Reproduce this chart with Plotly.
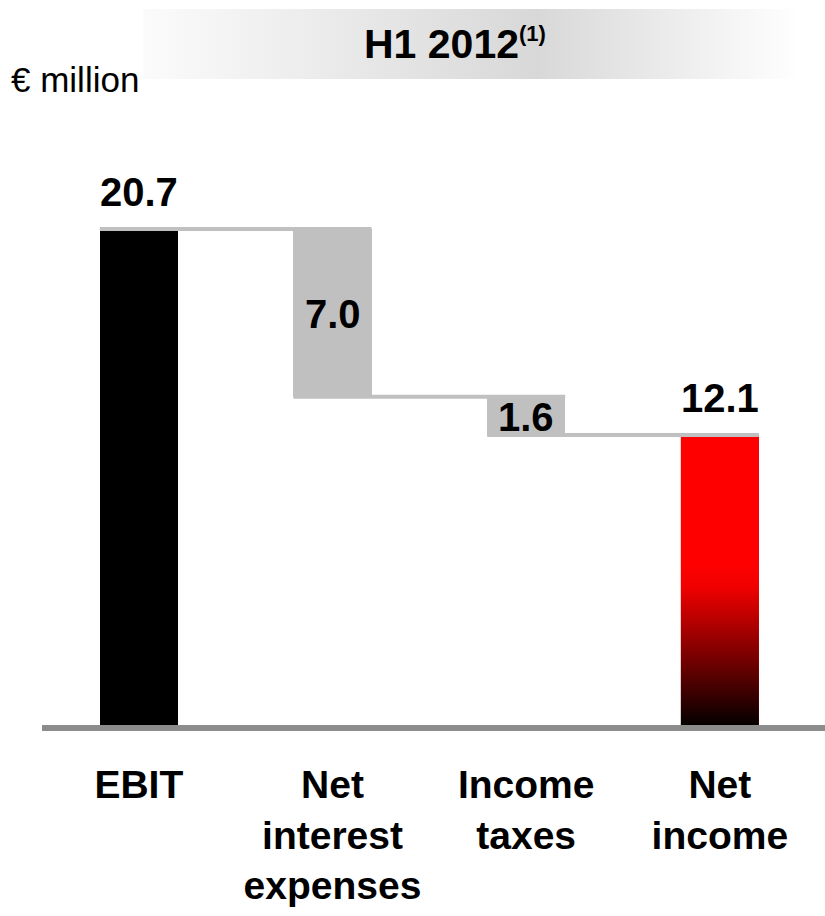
import plotly.graph_objects as go

# Waterfall data: EBIT down to net income, € million
categories = ["EBIT", "Net<br>interest<br>expenses", "Income<br>taxes", "Net<br>income"]
values = [20.7, -7.0, -1.6, 12.1]
measures = ["absolute", "relative", "relative", "total"]
bar_colors = ["#000000", "#c0c0c0", "#c0c0c0", "#ff0000"]
period_label = "H1 2012"
period_note = "(1)"
unit_label = "€ million"

FONT = "Liberation Sans, Arial, sans-serif"
BAR_W = 0.403
CONNECTOR = "#c0c0c0"

# Floating-bar geometry derived from the measures
xs = list(range(len(categories)))
bases, heights, levels = [], [], []
running = 0.0
for v, m in zip(values, measures):
    if m == "absolute":
        running = v
        bases.append(0.0)
        heights.append(v)
    elif m == "relative":
        new = running + v
        bases.append(min(running, new))
        heights.append(abs(v))
        running = new
    else:
        bases.append(0.0)
        heights.append(v)
        running = v
    levels.append(running)

fig = go.Figure()

fig.add_trace(go.Bar(
    x=xs, y=heights, base=bases, width=BAR_W,
    marker=dict(color=bar_colors, line=dict(width=0)),
    hovertext=[f"{abs(v):.1f}" for v in values], hoverinfo="text",
    showlegend=False,
))

# Net income bar drawn again with a red-to-black vertical gradient
for i, m in enumerate(measures):
    if m != "total":
        continue
    x0, x1 = xs[i] - BAR_W / 2, xs[i] + BAR_W / 2
    y0, y1 = bases[i], bases[i] + heights[i]
    fig.add_trace(go.Scatter(
        x=[x0, x1, x1, x0, x0], y=[y0, y0, y1, y1, y0],
        mode="lines", line=dict(width=0), fill="toself",
        fillgradient=dict(type="vertical",
                          colorscale=[[0, "#050000"], [0.85, "#f00000"], [1, "#ff0000"]],
                          start=y0, stop=y0 + heights[i] * 0.56),
        hoverinfo="skip", showlegend=False,
    ))

# Header band with a soft horizontal grey gradient (pixel-space overlay axes)
band_x = [143, 800, 800, 143, 143]
band_y = [9, 9, 79, 79, 9]
fig.add_trace(go.Scatter(
    x=band_x, y=band_y, xaxis="x2", yaxis="y2",
    mode="lines", line=dict(width=0), fill="toself",
    fillgradient=dict(type="horizontal",
                      colorscale=[[0, "#fbfbfb"], [0.6, "#d8d8d8"], [1, "#ffffff"]],
                      start=143, stop=800),
    hoverinfo="skip", showlegend=False,
))

shapes = []
# Connector lines between consecutive bar levels
for i in range(len(xs) - 1):
    shapes.append(dict(
        type="line", xref="x", yref="y",
        x0=xs[i] - BAR_W / 2, x1=xs[i + 1] + BAR_W / 2,
        y0=levels[i], y1=levels[i],
        line=dict(color=CONNECTOR, width=4), layer="above",
    ))
# Baseline
shapes.append(dict(
    type="rect", xref="x domain", yref="y",
    x0=0, x1=1, y0=-0.25, y1=0,
    fillcolor="#8c8c8c", line=dict(width=0), layer="above",
))

annotations = []
for i, m in enumerate(measures):
    txt = f"{abs(values[i]):.1f}"
    if m == "relative":
        annotations.append(dict(
            x=xs[i], y=bases[i] + heights[i] / 2, xref="x", yref="y",
            text=txt, showarrow=False, yanchor="middle", yshift=-1,
            font=dict(family=FONT, size=40, color="black", weight="bold"),
        ))
    else:
        annotations.append(dict(
            x=xs[i], y=bases[i] + heights[i], xref="x", yref="y",
            text=txt, showarrow=False, yanchor="bottom", yshift=13,
            font=dict(family=FONT, size=40, color="black", weight="bold"),
        ))

annotations.append(dict(
    x=455 / 825, y=1 - 44 / 916, xref="paper", yref="paper",
    text=f"{period_label}<sup><span style='font-size:22px'>{period_note}</span></sup>",
    showarrow=False, xanchor="center", yanchor="middle",
    font=dict(family=FONT, size=41, color="black", weight="bold"),
))
annotations.append(dict(
    x=9 / 825, y=1 - 80 / 916, xref="paper", yref="paper",
    text=unit_label, showarrow=False, xanchor="left", yanchor="middle",
    font=dict(family=FONT, size=35, color="black"),
))

fig.update_layout(
    width=825, height=916,
    margin=dict(l=0, r=0, t=0, b=0),
    paper_bgcolor="white", plot_bgcolor="rgba(0,0,0,0)",
    bargap=0,
    shapes=shapes, annotations=annotations,
    xaxis=dict(
        domain=[42 / 825, 1], range=[-0.5, 3.543],
        tickmode="array", tickvals=xs, ticktext=categories,
        tickfont=dict(family=FONT, size=39, color="black", weight="bold"),
        ticklabelstandoff=26,
        showgrid=False, zeroline=False, showline=False, ticks="",
        fixedrange=True,
    ),
    yaxis=dict(
        domain=[184 / 916, 816 / 916], range=[-0.292, 26.085],
        showticklabels=False, showgrid=False, zeroline=False, showline=False,
        fixedrange=True,
    ),
    xaxis2=dict(domain=[0, 1], range=[0, 825], anchor="y2", visible=False, fixedrange=True),
    yaxis2=dict(domain=[0, 1], range=[916, 0], anchor="x2", visible=False, fixedrange=True),
)

fig.write_html("out.html")
